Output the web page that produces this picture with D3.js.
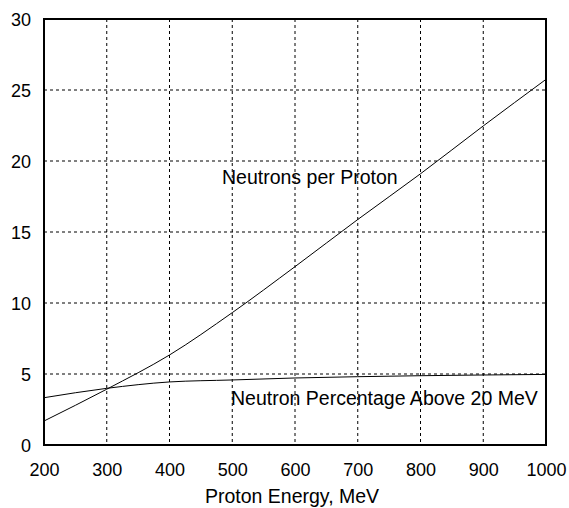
<!DOCTYPE html>
<html>
<head>
<meta charset="utf-8">
<script src="https://cdn.jsdelivr.net/npm/d3@7"></script>
<style>
  body { margin: 0; background: #fff; }
  svg { display: block; }
  text { font-family: "Liberation Sans", Arial, sans-serif; fill: #000; }
</style>
</head>
<body>
<svg id="chart" width="569" height="508"></svg>
<script>
const energies = [200, 300, 400, 500, 600, 700, 800, 900, 1000];
const neutronsPerProton = [1.69, 3.93, 6.34, 9.32, 12.56, 15.88, 19.1, 22.47, 25.75];
const percentAbove20 = [3.33, 3.99, 4.44, 4.58, 4.72, 4.81, 4.88, 4.93, 4.97];
const xTicks = [200, 300, 400, 500, 600, 700, 800, 900, 1000];
const yTicks = [0, 5, 10, 15, 20, 25, 30];
const xTitle = "Proton Energy, MeV";
const label1 = "Neutrons per Proton";
const label2 = "Neutron Percentage Above 20 MeV";

const svg = d3.select("#chart");
const m = { left: 44, right: 546, top: 19, bottom: 445 };

const x = d3.scaleLinear().domain([200, 1000]).range([m.left, m.right]);
const y = d3.scaleLinear().domain([0, 30]).range([m.bottom, m.top]);

// grid
const grid = svg.append("g");
grid.selectAll("line.gx").data(xTicks.slice(1, -1)).enter().append("line")
  .attr("x1", d => x(d)).attr("x2", d => x(d))
  .attr("y1", m.top).attr("y2", m.bottom)
  .attr("stroke", "#000").attr("stroke-width", 1).attr("stroke-dasharray", "3,3");
grid.selectAll("line.gy").data(yTicks.slice(1, -1)).enter().append("line")
  .attr("y1", d => y(d)).attr("y2", d => y(d))
  .attr("x1", m.left).attr("x2", m.right)
  .attr("stroke", "#000").attr("stroke-width", 1).attr("stroke-dasharray", "3,3");

// curves
const line = d3.line().x((d, i) => x(energies[i])).y(d => y(d)).curve(d3.curveMonotoneX);
svg.append("path").datum(neutronsPerProton).attr("d", line)
  .attr("fill", "none").attr("stroke", "#000").attr("stroke-width", 1);
svg.append("path").datum(percentAbove20).attr("d", line)
  .attr("fill", "none").attr("stroke", "#000").attr("stroke-width", 1);

// frame
svg.append("rect").attr("x", m.left).attr("y", m.top)
  .attr("width", m.right - m.left).attr("height", m.bottom - m.top)
  .attr("fill", "none").attr("stroke", "#000").attr("stroke-width", 2);

// axes (labels only)
const xAxis = d3.axisBottom(x).tickValues(xTicks).tickFormat(d3.format("d")).tickSize(0).tickPadding(0);
const gx = svg.append("g").attr("transform", `translate(0,${m.bottom})`).call(xAxis);
gx.select(".domain").remove();
gx.selectAll("text").attr("font-size", 18).attr("dy", null).attr("y", 31)
  .style("font-family", '"Liberation Sans", Arial, sans-serif').attr("fill", "#000");

const yAxis = d3.axisLeft(y).tickValues(yTicks).tickFormat(d3.format("d")).tickSize(0).tickPadding(0);
const gy = svg.append("g").attr("transform", `translate(${m.left},0)`).call(yAxis);
gy.select(".domain").remove();
gy.selectAll("text").attr("font-size", 18).attr("x", -13).attr("dy", "0.36em")
  .style("font-family", '"Liberation Sans", Arial, sans-serif').attr("fill", "#000");

// titles
svg.append("text").attr("x", 292).attr("y", 503)
  .attr("text-anchor", "middle").attr("font-size", 19.5).text(xTitle);
svg.append("text").attr("x", 222).attr("y", 184)
  .attr("font-size", 19.5).text(label1);
svg.append("text").attr("x", 231).attr("y", 405)
  .attr("font-size", 19.5).text(label2);
</script>
</body>
</html>
